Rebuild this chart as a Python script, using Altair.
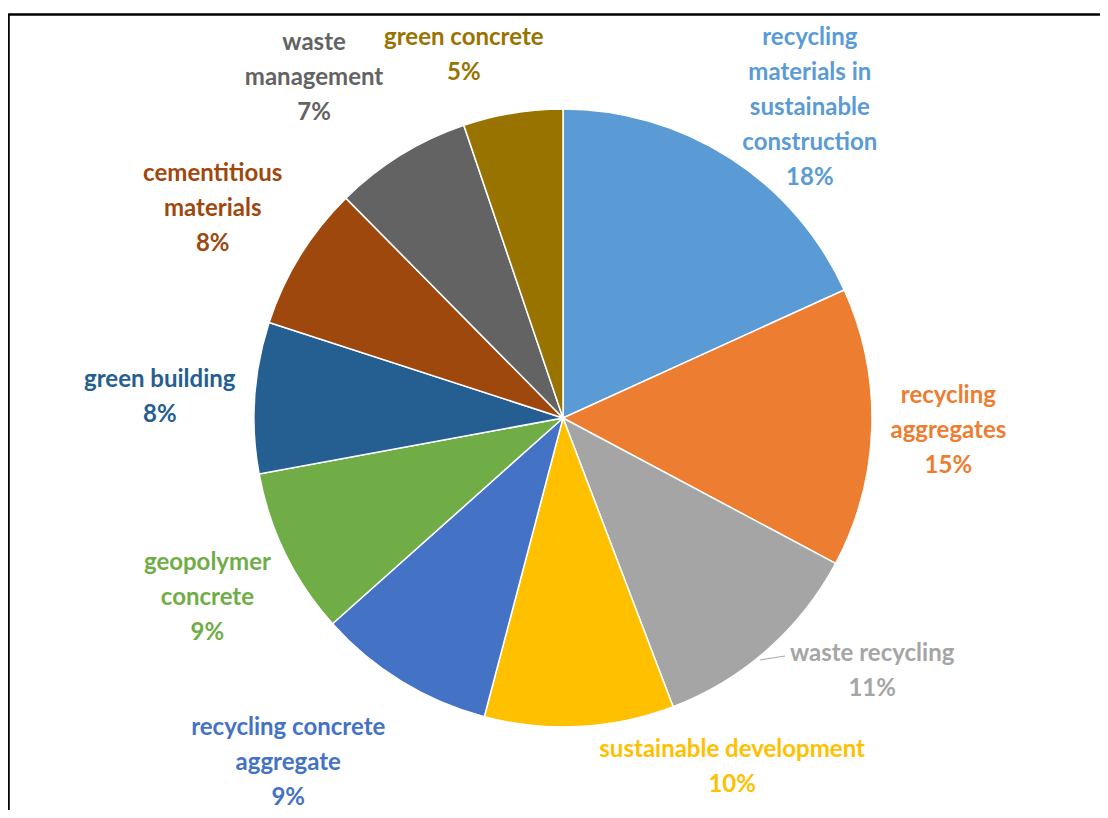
import altair as alt
import pandas as pd

categories = [
    "recycling materials in sustainable construction",
    "recycling aggregates",
    "waste recycling",
    "sustainable development",
    "recycling concrete aggregate",
    "geopolymer concrete",
    "green building",
    "cementitious materials",
    "waste management",
    "green concrete",
]
values = [18.2, 14.6, 11.4, 9.9, 9.3, 8.7, 7.9, 7.6, 7.2, 5.2]
colors = ["#5B9BD5", "#ED7D31", "#A5A5A5", "#FFC000", "#4472C4",
          "#70AD47", "#255E91", "#9E480E", "#636363", "#997300"]

# label layout (line breaks, angular shift of first line from slice middle in value units,
# radius of first line in px)
label_lines = [
    ["recycling", "materials in", "sustainable", "construction"],
    ["recycling", "aggregates"],
    ["waste recycling"],
    ["sustainable development"],
    ["recycling concrete", "aggregate"],
    ["geopolymer", "concrete"],
    ["green building"],
    ["cementitious", "materials"],
    ["waste", "management"],
    ["green concrete"],
]
label_shift = [0.07, -1.41, -3.12, -6.64, 2.8, 1.09, 0.45, 0.89, -0.53, -1.46]
label_radius = [453, 386, 389, 373, 414, 384, 405, 427, 450, 393]

total = sum(values)
cx, cy, R = 555, 410, 309

df = pd.DataFrame({
    "cat": categories,
    "value": values,
    "idx": list(range(len(values))),
    "label": ["\n".join(l + [f"{round(v)}%"]) for l, v in zip(label_lines, values)],
    "shift": label_shift,
    "lr": label_radius,
})

color_scale = alt.Scale(domain=categories, range=colors)
theta_scale = alt.Scale(domain=[0, total])

base = alt.Chart(df)

pie = base.mark_arc(outerRadius=R, stroke="white", strokeWidth=1.5).encode(
    theta=alt.Theta("value:Q", stack=True, scale=theta_scale),
    color=alt.Color("cat:N", scale=color_scale, legend=None, sort=None),
    order=alt.Order("idx:Q"),
    x=alt.value(cx),
    y=alt.value(cy),
)

labels = base.transform_window(
    cum="sum(value)", sort=[alt.SortField("idx")], frame=[None, 0]
).transform_calculate(
    lt="datum.cum - datum.value / 2 + datum.shift"
).mark_text(
    font="Lato", fontWeight="bold", fontSize=24, lineBreak="\n",
    lineHeight=35, align="center", baseline="middle",
).encode(
    theta=alt.Theta("lt:Q", stack=False, scale=theta_scale),
    radius=alt.Radius("lr:Q", scale=None),
    text="label:N",
    color=alt.Color("cat:N", scale=color_scale, legend=None, sort=None),
    x=alt.value(cx),
    y=alt.value(cy),
)

frame_data = alt.Data(values=[{}])
top_line = alt.Chart(frame_data).mark_rule(color="black", strokeWidth=2.5).encode(
    x=alt.value(0), x2=alt.value(1092), y=alt.value(6.5)
)
left_line = alt.Chart(frame_data).mark_rule(color="black", strokeWidth=2.5).encode(
    x=alt.value(0.5), y=alt.value(6.5), y2=alt.value(802)
)
leader = alt.Chart(frame_data).mark_rule(color="#A5A5A5", strokeWidth=1).encode(
    x=alt.value(752), x2=alt.value(777), y=alt.value(652), y2=alt.value(648)
)

chart = alt.layer(pie, labels, top_line, left_line, leader).properties(
    width=1092, height=802, padding=0, autosize=alt.AutoSizeParams(type="none"),
    background="white",
).configure_view(stroke=None)

chart.save("out.html", embed_options={"renderer": "svg", "actions": False})
